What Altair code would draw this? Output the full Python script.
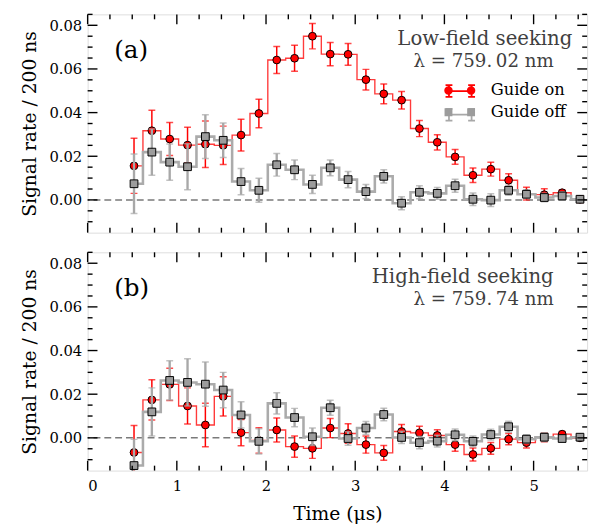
import altair as alt
import pandas as pd

# ---------------- data ----------------
time_us = [0.52, 0.72, 0.92, 1.12, 1.32, 1.52, 1.72, 1.92, 2.12, 2.32, 2.52, 2.72, 2.92,
           3.12, 3.32, 3.52, 3.72, 3.92, 4.12, 4.32, 4.52, 4.72, 4.92, 5.12, 5.32, 5.52]

# (a) low-field seeking
a_on = [0.0156, 0.0317, 0.0279, 0.0251, 0.0255, 0.0250, 0.0297, 0.0396, 0.0641, 0.0649, 0.0750, 0.0668, 0.0667,
        0.0551, 0.0486, 0.0457, 0.0327, 0.0264, 0.0197, 0.0113, 0.0141, 0.0090, 0.0029, 0.0024, 0.0033, 0.0003]
a_on_err = [0.0126, 0.0094, 0.0076, 0.0082, 0.0107, 0.0088, 0.0073, 0.0065, 0.0062, 0.0060, 0.0058, 0.0053, 0.0050,
            0.0047, 0.0045, 0.0040, 0.0037, 0.0035, 0.0034, 0.0033, 0.0032, 0.0030, 0.0029, 0.0027, 0.0012, 0.0015]
a_off = [0.0074, 0.0219, 0.0173, 0.0152, 0.0290, 0.0273, 0.0084, 0.0044, 0.0161, 0.0138, 0.0071, 0.0147, 0.0093,
         0.0038, 0.0108, -0.0015, 0.0035, 0.0030, 0.0065, 0.0003, -0.0001, 0.0044, 0.0026, 0.0011, 0.0018, 0.0003]
a_off_err = [0.0136, 0.0106, 0.0083, 0.0105, 0.0100, 0.0079, 0.0060, 0.0055, 0.0052, 0.0045, 0.0042, 0.0036, 0.0037,
             0.0033, 0.0030, 0.0030, 0.0030, 0.0027, 0.0030, 0.0029, 0.0029, 0.0023, 0.0020, 0.0020, 0.0020, 0.0010]

# (b) high-field seeking
b_on = [-0.0067, 0.0174, 0.0245, 0.0146, 0.0059, 0.0190, 0.0024, -0.0012, 0.0036, -0.0040, -0.0048, 0.0045, 0.0020,
        -0.0031, -0.0069, 0.0029, 0.0023, 0.0011, -0.0031, -0.0076, -0.0048, -0.0006, -0.0022, 0.0002, 0.0017, 0.0000]
b_on_err = [0.0124, 0.0092, 0.0074, 0.0083, 0.0100, 0.0090, 0.0060, 0.0058, 0.0055, 0.0049, 0.0046, 0.0044, 0.0045,
            0.0039, 0.0034, 0.0032, 0.0030, 0.0026, 0.0030, 0.0030, 0.0027, 0.0026, 0.0024, 0.0020, 0.0012, 0.0010]
b_off = [-0.0127, 0.0119, 0.0263, 0.0254, 0.0246, 0.0219, 0.0105, -0.0016, 0.0158, 0.0093, 0.0005, 0.0138, -0.0003,
         0.0045, 0.0107, 0.0002, -0.0022, -0.0015, 0.0014, -0.0016, 0.0015, 0.0051, -0.0006, 0.0003, -0.0003, 0.0003]
b_off_err = [0.0120, 0.0110, 0.0090, 0.0108, 0.0101, 0.0081, 0.0060, 0.0058, 0.0049, 0.0042, 0.0040, 0.0034, 0.0031,
             0.0030, 0.0029, 0.0028, 0.0028, 0.0027, 0.0027, 0.0025, 0.0025, 0.0025, 0.0020, 0.0020, 0.0015, 0.0010]

series_names = ["Guide on", "Guide off"]
line_keys = ["on", "off"]  # keys for the line/error-bar part of the legend

x_major = [0, 1, 2, 3, 4, 5]
x_minor = [0.25, 0.5, 0.75, 1.25, 1.5, 1.75, 2.25, 2.5, 2.75, 3.25, 3.5, 3.75,
           4.25, 4.5, 4.75, 5.25, 5.5]
y_major = [0.0, 0.02, 0.04, 0.06, 0.08]
y_minor = [-0.01, -0.005, 0.005, 0.01, 0.015, 0.025, 0.03, 0.035, 0.045, 0.05, 0.055,
           0.065, 0.07, 0.075, 0.085]

# ---------------- styling ----------------
W, H = 508, 222
FONT = "DejaVu Serif"
RED_LINE = "#ff3b3b"
RED = "#ff0000"
GRAY_LINE = "#ababab"
GRAY_ERR = "#a8a8a8"
GRAY_FILL = "#9c9c9c"
TEXT_GRAY = "#3f3f3f"

LINE_PATH = ("M-1.15,0L1.15,0 M-1.15,-0.6L-1.15,0.6 M1.15,-0.6L1.15,0.6 "
             "M-1.5,-0.6L-0.8,-0.6 M-1.5,0.6L-0.8,0.6 M0.8,-0.6L1.5,-0.6 M0.8,0.6L1.5,0.6")
CIRCLES_PATH = ("M-0.72,0A0.43,0.43 0 1,1 -1.58,0A0.43,0.43 0 1,1 -0.72,0Z "
                "M1.58,0A0.43,0.43 0 1,1 0.72,0A0.43,0.43 0 1,1 1.58,0Z")
SQUARES_PATH = "M-1.55,-0.4H-0.75V0.4H-1.55Z M0.75,-0.4H1.55V0.4H0.75Z"

xs = alt.Scale(domain=[0, 5.6], nice=False, zero=False)
ys = alt.Scale(domain=[-0.015, 0.085], nice=False, zero=False)


def frame_df(vals, errs):
    return pd.DataFrame({
        "t": time_us,
        "y": vals,
        "lo": [v - e for v, e in zip(vals, errs)],
        "hi": [v + e for v, e in zip(vals, errs)],
    })


def panel(on_v, on_e, off_v, off_e, tag, line1, line2, line1_x, top):
    if top:
        xaxis = None
    else:
        xaxis = alt.Axis(values=x_major, format="d", ticks=False, domain=False, grid=False,
                         labelPadding=8, labelFontSize=15, labelColor="black", labelFont=FONT,
                         title="Time (μs)", titleFontSize=19, titleFontWeight="normal",
                         titleFont=FONT, titleColor="black", titlePadding=12)
    yaxis = alt.Axis(values=y_major, format=".2f", ticks=False, domain=False, grid=False,
                     labelPadding=6, labelFontSize=15, labelColor="black", labelFont=FONT,
                     title="Signal rate / 200 ns", titleFontSize=19, titleFontWeight="normal",
                     titleFont=FONT, titleColor="black", titlePadding=10)
    X = alt.X("t:Q", scale=xs, axis=xaxis)
    Y = alt.Y("y:Q", scale=ys, axis=yaxis)

    layers = []
    # zero line
    layers.append(alt.Chart(pd.DataFrame({"y": [0.0]})).mark_rule(
        color="#7a7a7a", strokeWidth=1.5, strokeDash=[7, 4]).encode(y=Y))

    def series_layers(vals, errs, line_color, line_w, err_color, err_w, cap_w, shape, fill, size):
        d = frame_df(vals, errs)
        base = alt.Chart(d)
        return [
            base.mark_line(interpolate="step", color=line_color, strokeWidth=line_w, clip=True)
                .encode(x=X, y=Y),
            base.mark_rule(color=err_color, strokeWidth=err_w, clip=True)
                .encode(x=X, y=alt.Y("lo:Q", scale=ys), y2="hi:Q"),
            base.mark_tick(color=err_color, thickness=1.5, size=cap_w, orient="horizontal", clip=True)
                .encode(x=X, y=alt.Y("lo:Q", scale=ys)),
            base.mark_tick(color=err_color, thickness=1.5, size=cap_w, orient="horizontal", clip=True)
                .encode(x=X, y=alt.Y("hi:Q", scale=ys)),
            base.mark_point(shape=shape, filled=True, fill=fill, stroke="black", strokeWidth=1,
                            size=size, opacity=1, clip=True)
                .encode(x=X, y=Y),
        ]

    layers += series_layers(on_v, on_e, RED_LINE, 1.4, RED, 1.5, 7, "circle", RED, 62)
    layers += series_layers(off_v, off_e, GRAY_LINE, 2.6, GRAY_ERR, 2.4, 7, "square", GRAY_FILL, 62)

    # inward ticks on all four sides
    xmaj = pd.DataFrame({"t": x_major})
    xmin = pd.DataFrame({"t": x_minor})
    ymaj = pd.DataFrame({"y": y_major})
    ymin = pd.DataFrame({"y": y_minor})
    for d, ln in ((xmaj, 10), (xmin, 5)):
        layers.append(alt.Chart(d).mark_rule(color="black", strokeWidth=1.4)
                      .encode(x=X, y=alt.value(0), y2=alt.value(ln)))
        layers.append(alt.Chart(d).mark_rule(color="black", strokeWidth=1.4)
                      .encode(x=X, y=alt.value(H), y2=alt.value(H - ln)))
    for d, ln in ((ymaj, 10), (ymin, 5)):
        layers.append(alt.Chart(d).mark_rule(color="black", strokeWidth=1.4)
                      .encode(y=Y, x=alt.value(0), x2=alt.value(ln)))
        layers.append(alt.Chart(d).mark_rule(color="black", strokeWidth=1.4)
                      .encode(y=Y, x=alt.value(W), x2=alt.value(W - ln)))

    one = pd.DataFrame({"k": [0]})
    layers.append(alt.Chart(one).mark_text(text=tag, align="left", baseline="alphabetic",
                                           fontSize=25, font=FONT, color="black")
                  .encode(x=alt.value(27), y=alt.value(44)))
    layers.append(alt.Chart(one).mark_text(text=line1, align="right", baseline="alphabetic",
                                           fontSize=20, font=FONT, color=TEXT_GRAY)
                  .encode(x=alt.value(line1_x), y=alt.value(31)))
    layers.append(alt.Chart(one).mark_text(text=line2, align="right", baseline="alphabetic",
                                           fontSize=18.5, font=FONT, color=TEXT_GRAY)
                  .encode(x=alt.value(474), y=alt.value(54)))

    if top:
        leg_df = pd.DataFrame({"t": [0.0, 0.0], "y": [0.0, 0.0], "series": series_names,
                               "line_key": line_keys})
        legA = alt.Chart(leg_df).transform_filter("datum.t > 100").mark_point().encode(
            x=X, y=Y,
            stroke=alt.Stroke("line_key:N",
                              scale=alt.Scale(domain=line_keys, range=[RED, GRAY_ERR]),
                              legend=alt.Legend(orient="none", legendX=368, legendY=67, title=None,
                                                symbolType=LINE_PATH, symbolSize=400,
                                                symbolStrokeWidth=1.8, symbolFillColor="transparent",
                                                symbolOpacity=1, labelExpr="''",
                                                labelFontSize=16,
                                                labelFont=FONT, labelOffset=21, rowPadding=3,
                                                padding=0, zindex=1)))
        legB_legend = alt.Legend(orient="none", legendX=368, legendY=67, title=None,
                                 symbolSize=400, symbolStrokeColor="black", symbolStrokeWidth=1,
                                 symbolOpacity=1,
                                 labelColor="black", labelFontSize=16.5, labelFont=FONT,
                                 labelOffset=21, rowPadding=3, padding=0, zindex=2)
        legB = alt.Chart(leg_df).transform_filter("datum.t > 100").mark_point(filled=True).encode(
            x=X, y=Y,
            fill=alt.Fill("series:N", scale=alt.Scale(domain=series_names, range=[RED, GRAY_FILL]),
                          legend=legB_legend),
            shape=alt.Shape("series:N", scale=alt.Scale(domain=series_names,
                                                        range=[CIRCLES_PATH, SQUARES_PATH]),
                            legend=legB_legend))
        layers += [legA, legB]

    return alt.layer(*layers).properties(width=W, height=H)


top_panel = panel(a_on, a_on_err, a_off, a_off_err, "(a)", "Low-field seeking",
                  "λ = 759.\u200902 nm", 493, True)
bottom_panel = panel(b_on, b_on_err, b_off, b_off_err, "(b)", "High-field seeking",
                     "λ = 759.\u200974 nm", 474, False)

chart = alt.vconcat(top_panel, bottom_panel, spacing=16).resolve_scale(
    stroke="independent", fill="independent", shape="independent"
).resolve_legend(
    stroke="independent", fill="independent", shape="independent"
).properties(
    padding={"left": 12, "top": 0, "right": 5, "bottom": 5}
).configure_view(
    stroke="black", strokeWidth=1.8
).configure(font=FONT, background="white")

chart.save("out.html", embed_options={"renderer": "svg", "actions": False})
